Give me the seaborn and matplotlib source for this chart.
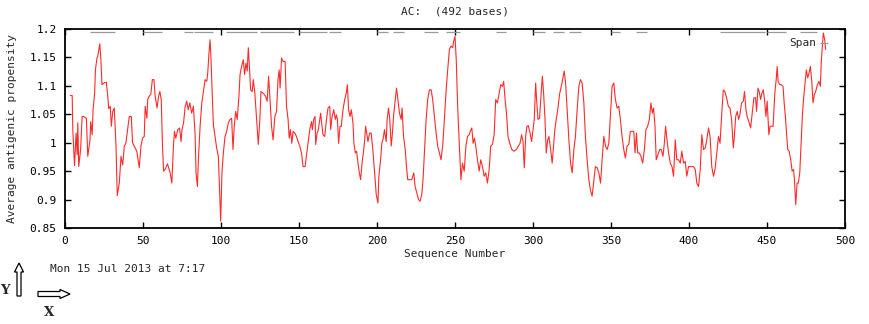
import matplotlib
matplotlib.use("Agg")
from matplotlib import pyplot as plt
from matplotlib.patches import FancyArrow
import pandas as pd
import seaborn as sns

# sequence position / antigenic propensity
positions = [
    3.5, 4.6, 5, 6.1, 7.1, 7.8, 8.2, 8.8, 10, 11, 12, 13.7, 14.6, 16, 16.5, 17.4, 18, 19, 19.5,
    20.5, 21, 22.3, 23, 23.7, 25.4, 26.5, 27.4, 28, 29, 29.7, 30.6, 31.6, 32.7, 33.5, 34.8,
    35.9, 37, 38, 39, 40.4, 41.2, 42.5, 43.3, 44.4, 46, 47.6, 48.7, 49.7, 50.8, 51.4, 52.5,
    53, 54, 55, 56, 57, 57.8, 59, 60, 60.8, 61.7, 62.5, 63.2, 64.2, 65.7, 67.4, 68.5, 69.5,
    70.2, 71, 72.3, 73.4, 74.4, 75, 76, 77, 78, 79, 80, 81.2, 82.3,
    83.4, 84, 84.9, 85.5, 86.6, 87.7, 88.7, 89.8, 90.9, 91.5, 92.3, 93, 93.6, 94.3, 95.1,
    96.2, 97.2, 98.3, 99, 99.8, 100.6, 101.5, 102.6, 103.6, 104.7, 105.8, 106.8, 107.7,
    108.5, 109.4, 110.4, 111.5, 112.2, 113.2, 114.3, 115.1, 116, 116.8, 117.5, 118.1, 119,
    120, 120.7, 121.7, 122.8, 123.9, 124.9, 125.6, 127.1, 128.5, 129.6, 130.5, 131.3, 132.4,
    133.4, 134.5, 135.6, 136.6, 137.3, 137.9, 138.8, 139.8, 141.1, 142, 143, 143.7, 144.5,
    145.4, 146.2, 147.3, 148.4, 149.4, 150.5, 151.6, 152.6, 153.9, 154.7, 155.8, 156.9, 158,
    158.6, 159.4, 160.3, 160.7, 161.6, 162.4, 163.3, 163.9, 164.5, 165.4, 166.5,
    167.6, 168.6, 169.7, 170.3, 171.2, 172.3, 173.3, 174, 174.6, 175.4, 176.3, 177.1, 178.2,
    179.3, 180.3, 181, 181.8, 182.7, 183.5, 184.6, 185.2, 186.1, 186.9, 187.8, 188.7, 189.5,
    190.4, 191.4, 192.1, 192.7, 193.5, 194.2, 195.3, 196.3, 197.4, 198.5, 199.5, 200.6,
    201.2, 202.3, 203.1, 204, 204.8, 205.9, 206.5, 207.4, 208.2, 209.1, 209.7, 210.8, 211.7,
    212.5, 213.4, 214.4, 215.5, 216.1, 217, 218.1, 218.9, 219.7, 221, 222.3, 223.6, 224.4,
    225.5, 226.6, 227.6, 228.7, 229.5, 230.4, 231.5, 232.5, 233.6, 234.7, 235.7, 236.8,
    237.9, 238.9, 240, 241, 242.1, 243.2, 244.2, 245.3, 246.4, 247.4, 248.5, 249.1, 250,
    250.8, 251.7, 252.8,
    253.8, 254.8, 255.9, 257, 258, 259.1, 260.2, 260.8, 261.6, 262.5, 263.3, 264.4, 265.5,
    266.5, 267.6, 268.7, 269.7, 270.8, 271.9, 272.9, 274, 275.1, 276.1, 277.2, 278.3, 279.3,
    280.4, 281.2, 282.1, 283, 284, 285.1, 286.4, 287.8, 289.3, 290.6, 291.7, 292.7, 293.6,
    294.4, 295.3, 296.1, 297, 298.1, 299.1, 300, 300.8, 301.7, 302.3, 303.2, 304.2, 305.1,
    306, 306.8, 307.7, 308.5, 309.4, 310.2, 311.3, 312.3, 313.2, 314, 314.9, 316, 317, 318.1,
    319.2, 320, 320.9, 322, 323, 324.1, 325.1, 326.2, 327.2, 328.3, 329.4, 330.4, 331.5,
    332.6, 333.6, 334.7, 335.8, 336.8, 337.9,
    340, 341.1, 342.2, 343.3, 344.3, 345.4, 346.5, 347.5, 348.6, 349.6, 350.7, 351.8, 352.8,
    353.9, 355, 356, 357.1, 358.2, 359.2, 360.3, 361.4, 362.4, 363.5, 364.6, 365.4, 366.3,
    367.1, 368.2, 369.2, 370.3, 371.4, 372.4, 373.5, 374.6, 375.6, 376.5, 377.3, 378.2, 379,
    380.1, 381.2, 382.2, 383.3, 384.2, 385, 385.9, 386.9, 388, 389.1, 390.1, 391.2, 392.2,
    393.3, 394.4, 395.4, 396.5, 397.6, 398.6, 399.7, 400.8, 401.8, 402.9, 404, 405, 406.1,
    407.2, 408.2, 409.3, 410.4, 411.4, 412.5, 413.5, 414.6, 415.7, 416.7, 417.8, 418.9,
    419.9, 421,
    422, 423, 424.1, 425.2, 426.3, 427.3, 428.4, 429, 429.9, 430.9, 431.8, 432.6, 433.7,
    434.8, 435.6, 436.5, 437.3, 438.4, 439.5, 440.5, 441.6, 442.7, 443.3, 444.2, 445, 445.9,
    446.7, 447.6, 448.4, 449.3, 450.1, 451.2, 452, 453.1, 453.9, 455, 455.9, 456.5, 457.1,
    458.2, 459.3, 460.3, 461, 461.8, 462.5, 463.3, 464.2, 465.2, 466.1, 467, 467.6, 468.4,
    469.3, 470.1, 471, 471.8, 472.7, 473.5, 474.4, 475.2, 476.1, 477, 477.8, 478.7, 479.5,
    480.4, 481.2, 482.3, 483.3, 484.2, 484.8, 485.5, 486.1, 487, 487.6,
]
propensity = [
    1.083, 1.083, 1.023, 0.96, 1.017, 0.979, 1.035, 0.958, 0.988, 1.046, 1.046, 1.043, 0.976,
    1.005, 1.037, 1.014, 1.058, 1.087, 1.128, 1.149, 1.152, 1.174, 1.146, 1.102, 1.106, 1.106,
    1.082, 1.06, 1.064, 1.029, 1.055, 1.061, 0.994, 0.907, 0.929, 0.976, 0.961, 0.994, 0.999,
    1.029, 1.046, 1.046, 1.0, 0.994, 0.985, 0.956, 0.994, 1.008, 1.011, 1.064, 1.043, 1.076,
    1.082, 1.085, 1.111, 1.111, 1.082, 1.061, 1.082, 1.09, 1.076, 0.994, 0.95, 0.953, 0.963,
    0.947, 0.929, 0.994, 1.02, 1.008, 1.023, 1.026, 1.002, 1.023, 1.035, 1.063, 1.073, 1.058,
    1.07, 1.052, 1.064,
    1.014, 0.947, 0.923, 0.97, 1.029, 1.07, 1.09, 1.111, 1.108, 1.123, 1.158, 1.181, 1.146,
    1.093, 1.032, 1.011, 0.991, 0.976, 0.923, 0.862, 0.947, 0.982, 1.011, 1.02, 1.035, 1.041,
    1.043, 0.988, 1.029, 1.055, 1.041, 1.082, 1.12, 1.134, 1.146, 1.12, 1.14, 1.126, 1.167,
    1.14, 1.093, 1.09, 1.111, 1.087, 1.041, 0.997, 1.041, 1.09, 1.087, 1.082, 1.073, 1.117,
    1.082, 1.029, 1.005, 1.046, 1.055, 1.114, 1.128, 1.096, 1.149, 1.143, 1.143, 1.064, 1.041,
    1.008, 1.023, 0.999, 1.02, 1.017, 1.011, 1.002, 0.994, 0.982, 0.958, 0.958, 0.976, 0.999,
    1.023, 1.037, 1.023, 1.041, 1.046, 0.997, 1.017, 1.023, 1.041, 1.052, 1.035, 1.014, 1.011,
    1.041, 1.061, 1.064, 1.023, 1.046, 1.058, 1.041, 1.049, 1.041, 0.999, 1.029, 1.029, 1.058,
    1.076, 1.087, 1.102, 1.058, 1.046, 1.058, 1.035, 0.999, 0.982, 0.985, 0.964, 0.947, 0.935,
    0.964, 0.985, 1.005, 1.029, 1.014, 1.002, 1.017, 1.017, 0.985, 0.947, 0.909, 0.894, 0.941,
    0.97, 0.999, 1.008, 1.023, 1.002, 1.041, 1.061, 1.041, 0.994, 1.011, 1.052, 1.076, 1.096,
    1.076, 1.052, 1.041, 1.061, 1.011, 0.988, 0.958, 0.935, 0.935, 0.935, 0.947, 0.923, 0.912,
    0.9, 0.897, 0.909, 0.935, 0.982, 1.041, 1.076, 1.093, 1.093, 1.076, 1.046, 1.017, 0.994,
    0.982, 0.97, 0.994, 1.041, 1.087, 1.128, 1.164, 1.17, 1.167, 1.178, 1.187, 1.146, 1.064,
    0.994,
    0.935, 0.964, 0.95, 0.994, 1.011, 1.014, 1.023, 1.026, 0.999, 1.008, 0.994, 0.97, 0.95,
    0.97, 0.958, 0.941, 0.947, 0.929, 0.953, 0.994, 0.997, 1.014, 1.076, 1.07, 1.087, 1.102,
    1.099, 1.108, 1.076, 1.052, 1.011, 0.999, 0.988, 0.985, 0.988, 0.994, 0.999, 1.014, 1.002,
    0.956, 1.011, 1.029, 1.03, 1.017, 1.002, 1.023, 1.041, 1.105, 1.076, 1.041, 1.043, 1.082,
    1.117, 1.087, 1.041, 0.982, 1.005, 1.011, 0.988, 0.964, 0.994, 1.023, 1.041, 1.061, 1.085,
    1.099, 1.114, 1.126, 1.105, 1.052, 1.005, 0.964, 0.947, 0.988, 1.011, 1.058, 1.099, 1.111,
    1.105, 1.07, 1.011, 0.97, 0.935, 0.917, 0.906,
    0.958, 0.956, 0.947, 0.929, 0.97, 1.011, 0.994, 0.988, 0.999, 1.046, 1.099, 1.105, 1.076,
    1.061, 1.064, 1.041, 1.011, 0.988, 0.973, 0.994, 0.997, 1.02, 1.02, 1.02, 0.982, 1.017,
    0.982, 0.982, 0.976, 0.964, 0.988, 1.023, 1.029, 1.041, 1.07, 1.052, 1.061, 1.029, 0.97,
    0.979, 0.988, 0.988, 0.976, 0.999, 1.029, 1.005, 0.982, 0.964, 0.958, 0.941, 1.005, 0.97,
    0.97, 0.964, 0.985, 0.964, 0.967, 0.941, 0.958, 0.958, 0.958, 0.958, 0.953, 0.929, 0.923,
    0.953, 1.014, 0.988, 0.991, 1.005, 1.026, 1.011, 0.958, 0.941, 0.953, 0.982, 1.011, 0.999,
    1.052,
    1.093, 1.09, 1.079, 1.064, 1.061, 1.041, 0.991, 1.008, 1.046, 1.055, 1.041, 1.049, 1.07,
    1.073, 1.09, 1.058, 1.046, 1.037, 1.026, 1.052, 1.079, 1.079, 1.055, 1.096, 1.09, 1.076,
    1.087, 1.093, 1.076, 1.046, 1.073, 1.014, 1.029, 1.029, 1.029, 1.087, 1.111, 1.134, 1.108,
    1.102, 1.102, 1.099, 1.07, 1.046, 1.017, 0.988, 0.985, 0.97, 0.95, 0.953, 0.935, 0.891,
    0.929, 0.929, 0.947, 0.994, 1.049, 1.079, 1.105, 1.128, 1.114, 1.123, 1.134, 1.108, 1.07,
    1.085, 1.09, 1.102, 1.108, 1.099, 1.143, 1.17, 1.193, 1.181, 1.164,
]

# antigenic regions drawn as grey bars under the top frame
span_start = [16, 50, 76, 83, 103, 125, 150, 169, 200, 210, 230, 244, 276, 300, 313, 323, 350, 366, 420, 450, 471]
span_end = [32, 62, 82, 95, 123, 147, 168, 177, 207, 217, 239, 253, 283, 308, 320, 331, 356, 373, 449, 462, 482]

x_ticks = [0, 50, 100, 150, 200, 250, 300, 350, 400, 450, 500]
y_ticks = [0.85, 0.9, 0.95, 1.0, 1.05, 1.1, 1.15, 1.2]
y_tick_labels = ["0.85", "0.9", "0.95", "1", "1.05", "1.1", "1.15", "1.2"]

df = pd.DataFrame({"pos": positions, "val": propensity})

sns.set_style("ticks")
plt.rcParams["font.family"] = ["DejaVu Sans Mono"]
mono = 8

fig = plt.figure(figsize=(8.7, 3.24), dpi=100)
ax = fig.add_axes([65 / 870, 1 - 228 / 324, 780 / 870, 199 / 324])

sns.lineplot(data=df, x="pos", y="val", ax=ax, color="#ff2a2a", linewidth=0.8,
             estimator=None, sort=False)

ax.hlines([1.195] * len(span_start), span_start, span_end, color="#999999", linewidth=0.9)
ax.text(464, 1.176, "Span", fontsize=mono, va="center", ha="left")
ax.hlines(1.176, 484, 489, color="#999999", linewidth=0.9)

ax.set_xlim(0, 500)
ax.set_ylim(0.85, 1.2)
ax.set_xticks(x_ticks)
ax.set_yticks(y_ticks)
ax.set_yticklabels(y_tick_labels)
ax.tick_params(direction="in", length=4, width=1, top=True, right=True,
               labelsize=mono, pad=6, colors="black")
for s in ax.spines.values():
    s.set_color("black")
    s.set_linewidth(1.3)

ax.set_xlabel("Sequence Number", fontsize=mono)
ax.set_ylabel("Average antigenic propensity", fontsize=mono, va="center")
ax.xaxis.set_label_coords(0.5, -0.105)
ax.yaxis.set_label_coords(-0.068, 0.5)

fig.text(455 / 870, 1 - 12 / 324, "AC:  (492 bases)", fontsize=mono, ha="center", va="center")
fig.text(50 / 870, 1 - 269 / 324, "Mon 15 Jul 2013 at 7:17", fontsize=mono, ha="left", va="center")

# little axis key in the bottom left corner
key = fig.add_axes([0, 0, 1, 1], zorder=-1)
key.set_xlim(0, 870)
key.set_ylim(324, 0)
key.axis("off")
key.add_patch(FancyArrow(19, 296, 0, -33, width=4, head_width=9, head_length=9,
                         length_includes_head=True, facecolor="white", edgecolor="black", linewidth=0.9))
key.add_patch(FancyArrow(38, 294, 32, 0, width=5, head_width=9, head_length=10,
                         length_includes_head=True, facecolor="white", edgecolor="black", linewidth=0.9))
key.text(5, 291, "Y", family="DejaVu Serif", weight="bold", fontsize=9.5, ha="center", va="center")
key.text(49, 313, "X", family="DejaVu Serif", weight="bold", fontsize=9.5, ha="center", va="center")

fig.savefig("out.png", dpi=100, facecolor="white")
